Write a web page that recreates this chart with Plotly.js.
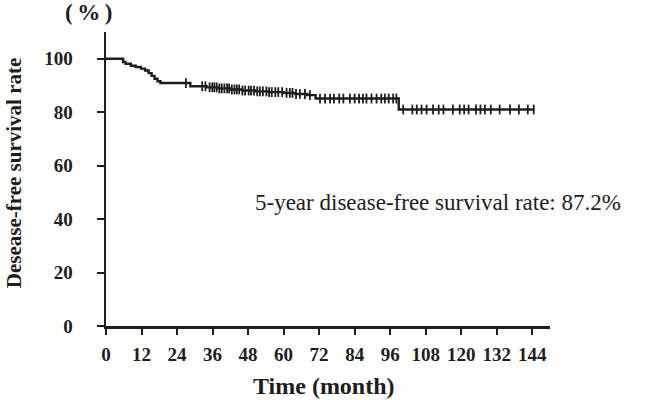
<!DOCTYPE html>
<html>
<head>
<meta charset="utf-8">
<script src="https://cdn.plot.ly/plotly-3.0.1.min.js"></script>
<style>html,body{margin:0;padding:0;background:#fff;}#chart{width:647px;height:400px;}</style>
</head>
<body>
<div id="chart"></div>
<script>
// Kaplan-Meier step points (month, disease-free survival %)
var eventTimes = [0, 5.8, 6.6, 8.4, 10.0, 11.8, 13.2, 14.4, 15.4, 16.4, 17.4, 18.4, 28.5, 34.0, 38.0, 42.0, 46.0, 50.5, 55.0, 60.0, 64.0, 68.0, 70.8, 98.9, 144.7];
var survival   = [100, 98.8, 98.1, 97.4, 96.9, 96.3, 95.6, 94.6, 93.6, 92.5, 91.6, 90.9, 89.7, 89.3, 88.9, 88.5, 88.1, 87.8, 87.5, 87.2, 86.8, 86.4, 85.1, 81.0, 81.0];
// censored observations (months)
var censorTimes = [27.0, 32.5, 33.6, 35.0, 35.9, 36.6, 37.4, 38.3, 39.1, 40.0, 40.9, 41.6, 42.5, 43.4, 44.2, 45.0, 46.1, 47.0, 48.2, 49.0, 50.0, 51.1, 52.0, 53.0, 54.2, 55.1, 56.0, 57.2, 58.2, 59.5, 61.0, 62.1, 63.0, 64.2, 65.5, 67.2, 68.9, 72.3, 74.0, 75.7, 77.0, 78.8, 80.2, 82.4, 84.0, 85.5, 86.8, 88.0, 89.7, 91.4, 93.0, 94.2, 95.5, 97.0, 98.1, 100.4, 103.5, 105.0, 106.6, 108.3, 110.5, 112.4, 114.0, 117.2, 119.5, 121.0, 122.5, 125.0, 126.5, 128.0, 130.0, 133.0, 136.5, 139.5, 142.5, 144.5];
var xTicks = [0, 12, 24, 36, 48, 60, 72, 84, 96, 108, 120, 132, 144];
var yTicks = [0, 20, 40, 60, 80, 100];

function survAt(t) {
  var s = survival[0];
  for (var i = 0; i < eventTimes.length; i++) { if (eventTimes[i] <= t) s = survival[i]; }
  return s;
}
var censorSurv = censorTimes.map(survAt);

var ink = '#1e1c1c';
var serif = 'Liberation Serif, Times New Roman, serif';

var traces = [
  {x: eventTimes, y: survival, type: 'scatter', mode: 'lines', line: {shape: 'hv', color: ink, width: 2.4}, hoverinfo: 'skip'},
  {x: censorTimes, y: censorSurv, type: 'scatter', mode: 'markers', marker: {symbol: 'line-ns-open', size: 7, color: ink, line: {color: ink, width: 1.8}}, hoverinfo: 'skip'}
];

var layout = {
  width: 647, height: 400,
  margin: {l: 105.5, r: 96.5, t: 32, b: 74},
  paper_bgcolor: '#fff', plot_bgcolor: '#fff',
  showlegend: false,
  font: {family: serif, color: ink},
  xaxis: {
    range: [0, 150], tickvals: xTicks, ticktext: xTicks.map(String),
    showline: true, linecolor: ink, linewidth: 2.5, ticks: 'outside', ticklen: 6, tickwidth: 2, tickcolor: ink,
    showgrid: false, zeroline: false, ticklabelstandoff: 4,
    tickfont: {family: serif, size: 19, weight: 'bold', color: ink}
  },
  yaxis: {
    range: [0, 110], tickvals: yTicks, ticktext: yTicks.map(String),
    showline: true, linecolor: ink, linewidth: 2.5, ticks: 'outside', ticklen: 7, tickwidth: 2, tickcolor: ink,
    showgrid: false, zeroline: false, ticklabelstandoff: 20,
    tickfont: {family: serif, size: 19, weight: 'bold', color: ink}
  },
  annotations: [
    {text: 'Time (month)', xref: 'paper', yref: 'paper', x: 0.49, y: -0.204, xanchor: 'center', yanchor: 'middle', showarrow: false,
     font: {family: serif, size: 24, weight: 'bold', color: ink}},
    {text: 'Desease-free survival rate', xref: 'paper', yref: 'paper', x: -0.207, y: 0.52, textangle: -90, xanchor: 'center', yanchor: 'middle', showarrow: false,
     font: {family: serif, size: 21, weight: 'bold', color: ink}},
    {text: '(&#8201;%&#8201;)', xref: 'paper', yref: 'paper', x: -0.039, y: 1.068, xanchor: 'center', yanchor: 'middle', showarrow: false,
     font: {family: serif, size: 23, weight: 'bold', color: ink}},
    {text: '5-year disease-free survival rate: 87.2%', xref: 'paper', yref: 'paper', x: 0.331, y: 0.42, xanchor: 'left', yanchor: 'middle', showarrow: false,
     font: {family: serif, size: 23, color: ink}}
  ]
};

Plotly.newPlot('chart', traces, layout, {displayModeBar: false, staticPlot: true});
</script>
</body>
</html>
